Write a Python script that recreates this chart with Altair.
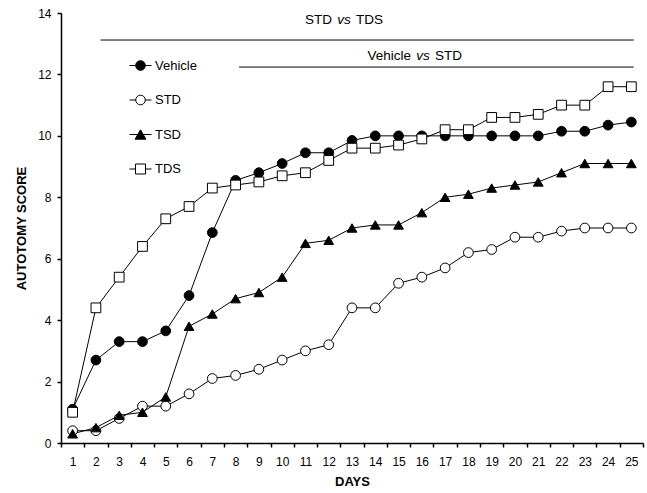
import altair as alt
import pandas as pd

days = list(range(1, 26))
series_names = ["Vehicle", "STD", "TSD", "TDS"]
vehicle = [1.1, 2.7, 3.3, 3.3, 3.65, 4.8, 6.85, 8.55, 8.8, 9.1, 9.45, 9.45, 9.85,
           10.0, 10.0, 10.0, 10.0, 10.0, 10.0, 10.0, 10.0, 10.15, 10.15, 10.35, 10.45]
std = [0.4, 0.4, 0.8, 1.2, 1.2, 1.6, 2.1, 2.2, 2.4, 2.7, 3.0, 3.2, 4.4,
       4.4, 5.2, 5.4, 5.7, 6.2, 6.3, 6.7, 6.7, 6.9, 7.0, 7.0, 7.0]
tsd = [0.3, 0.5, 0.9, 1.0, 1.5, 3.8, 4.2, 4.7, 4.9, 5.4, 6.5, 6.6, 7.0,
       7.1, 7.1, 7.5, 8.0, 8.1, 8.3, 8.4, 8.5, 8.8, 9.1, 9.1, 9.1]
tds = [1.0, 4.4, 5.4, 6.4, 7.3, 7.7, 8.3, 8.4, 8.5, 8.7, 8.8, 9.2, 9.6,
       9.6, 9.7, 9.9, 10.2, 10.2, 10.6, 10.6, 10.7, 11.0, 11.0, 11.6, 11.6]

# annotation (comparison bars)
ann_left = ["STD", "Vehicle"]
ann_mid = ["vs", "vs"]
ann_right = ["TDS", "STD"]
ann_x = [12.66, 16.05]
ann_y = [13.76, 12.6]
bar_x1 = [2.2, 8.15]
bar_x2 = [25.1, 25.1]
bar_y = [13.12, 12.24]

x_tick_values = [i + 0.5 for i in range(0, 26)]
y_tick_values = list(range(0, 15, 2))

rows = []
for name, vals in zip(series_names, [vehicle, std, tsd, tds]):
    for d, v in zip(days, vals):
        rows.append({"day": d, "score": v, "series": name})
df = pd.DataFrame(rows)

ann_df = pd.DataFrame({"left": ann_left, "mid": ann_mid, "right": ann_right,
                       "x": ann_x, "y": ann_y})
bar_df = pd.DataFrame({"x1": bar_x1, "x2": bar_x2, "y": bar_y})

FONT = "Liberation Sans"
W, H = 582, 430

xscale = alt.Scale(domain=[0.5, 25.5], nice=False, zero=False)
yscale = alt.Scale(domain=[0, 14], nice=False)

xaxis = alt.Axis(values=x_tick_values,
                 labelExpr="datum.value < 25 ? format(datum.value + 0.5, 'd') : ''",
                 labelOffset=W / 50, labelFlush=False, labelOverlap=False,
                 grid=False, title="DAYS", tickSize=4, labelPadding=9,
                 titlePadding=8)
yaxis = alt.Axis(values=y_tick_values, grid=False, title="AUTOTOMY SCORE",
                 tickSize=4, labelPadding=6, titlePadding=9, labelFlush=False)

x = alt.X("day:Q", scale=xscale, axis=xaxis)
y = alt.Y("score:Q", scale=yscale, axis=yaxis)

base = alt.Chart(df)

lines = base.mark_line(color="black", strokeWidth=1).encode(
    x=x, y=y, detail="series:N")

points = base.mark_point(stroke="black", strokeWidth=1, opacity=1).encode(
    x=x, y=y,
    shape=alt.Shape("series:N", scale=alt.Scale(domain=series_names,
                    range=["circle", "circle", "triangle-up", "square"]), legend=None),
    fill=alt.Fill("series:N", scale=alt.Scale(domain=series_names,
                  range=["black", "white", "black", "white"]), legend=None),
    size=alt.Size("series:N", scale=alt.Scale(domain=series_names,
                  range=[95, 95, 110, 100]), legend=None),
)

p_circle = "M-1.1,0H-0.48M0.48,0H1.1M0.48,0A0.48,0.48,0,1,1,-0.48,0A0.48,0.48,0,1,1,0.48,0Z"
p_tri = "M-1.1,0H1.1M0,-0.47L-0.54,0.47L0.54,0.47Z"
p_sq = "M-1.1,0H-0.5M0.5,0H1.1M-0.5,-0.5H0.5V0.5H-0.5Z"

leg = alt.Legend(orient="none", legendX=69, legendY=42, title=None,
                 labelFont=FONT, labelFontSize=13, labelColor="black",
                 labelOffset=4, rowPadding=16.5, padding=0, symbolStrokeWidth=1,
                 symbolStrokeColor="black", symbolSize=400)

legend_layer = base.transform_filter("false").mark_point(
    stroke="black", strokeWidth=1, opacity=1, size=400).encode(
    shape=alt.Shape("series:N", scale=alt.Scale(domain=series_names,
                    range=[p_circle, p_circle, p_tri, p_sq]), legend=leg),
    fill=alt.Fill("series:N", scale=alt.Scale(domain=series_names,
                  range=["black", "white", "black", "white"]), legend=leg),
    stroke=alt.Stroke("series:N", scale=alt.Scale(domain=series_names,
                      range=["black", "black", "black", "black"]), legend=leg),
)

ann = alt.Chart(ann_df)
ax = alt.X("x:Q", scale=xscale, axis=xaxis)
ay = alt.Y("y:Q", scale=yscale, axis=yaxis)
t_mid = ann.mark_text(font=FONT, fontSize=13.5, fontStyle="italic", align="center",
                      baseline="middle", color="black").encode(x=ax, y=ay, text="mid:N")
t_left = ann.mark_text(font=FONT, fontSize=13.5, align="right", dx=-12,
                       baseline="middle", color="black").encode(x=ax, y=ay, text="left:N")
t_right = ann.mark_text(font=FONT, fontSize=13.5, align="left", dx=12,
                        baseline="middle", color="black").encode(x=ax, y=ay, text="right:N")

bars = alt.Chart(bar_df).mark_rule(color="black", strokeWidth=1).encode(
    x=alt.X("x1:Q", scale=xscale, axis=xaxis), x2="x2:Q",
    y=alt.Y("y:Q", scale=yscale, axis=yaxis))

chart = alt.layer(lines, points, legend_layer, bars, t_left, t_mid, t_right).resolve_scale(
    shape="independent", fill="independent", stroke="independent"
).properties(
    width=W, height=H,
    autosize=alt.AutoSizeParams(type="none"),
    padding={"left": 61, "top": 13, "right": 4, "bottom": 50},
    background="white",
).configure_view(stroke=None).configure_axis(
    domainColor="black", tickColor="black", labelColor="black", titleColor="black",
    labelFont=FONT, titleFont=FONT, labelFontSize=12, titleFontSize=13,
    titleFontWeight="bold", domainWidth=1.5, tickWidth=1.5,
)

chart.save("out.html", embed_options={"renderer": "svg", "actions": False})
